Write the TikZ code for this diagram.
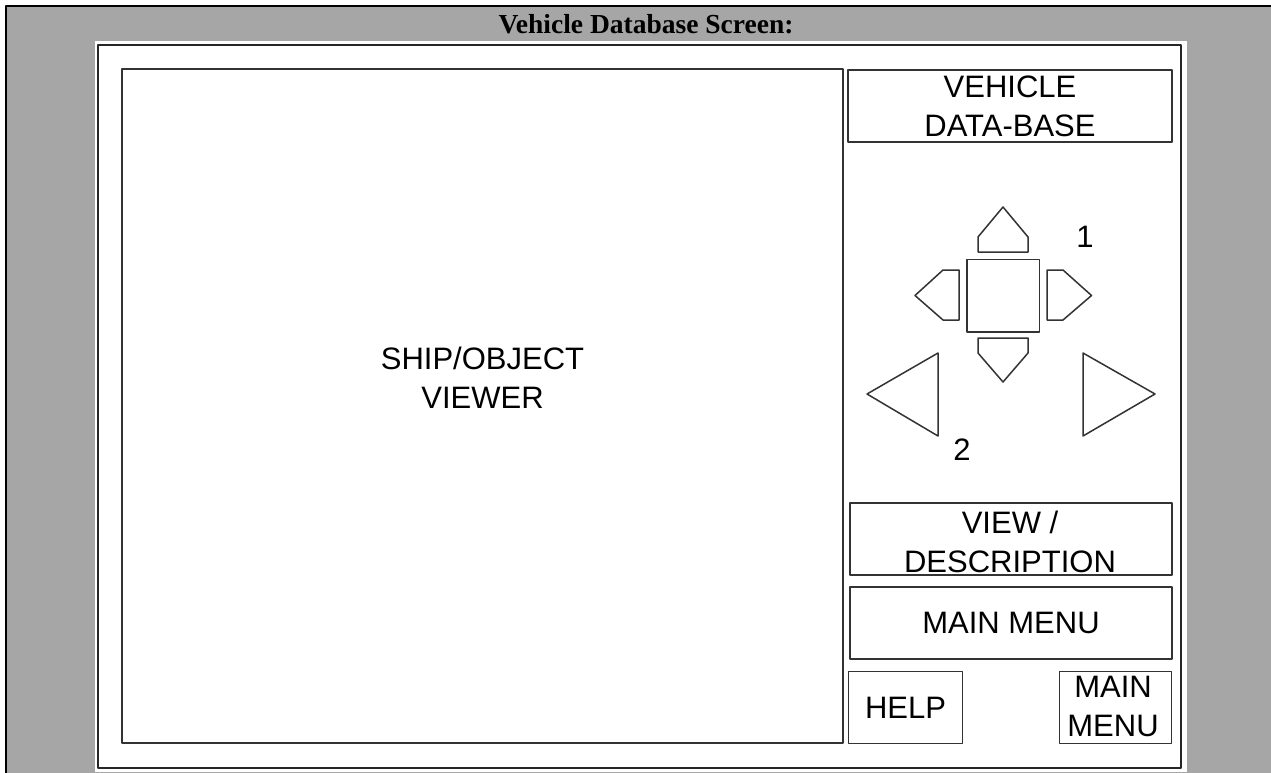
\documentclass[tikz,border=0pt]{standalone}
\usepackage{fontspec}
\setmainfont{Liberation Sans}
\newfontfamily\titlefont{Liberation Serif}
\begin{document}
\begin{tikzpicture}[x=1pt, y=-1pt, line cap=round, line join=round,
    key/.style={draw=black!80, line width=1.5pt, inner sep=0pt, align=center,
      font=\fontsize{31}{39}\selectfont},
    pin/.style={draw=black!80, line width=1.5pt, fill=white},
    lbl/.style={inner sep=0pt, align=center, font=\fontsize{31}{39}\selectfont}]
  \useasboundingbox (0,0) rectangle (1271,773);
  % Hintergrund
  \fill[black!35] (6,6) rectangle (1271,773);
  \draw[line width=1.6pt] (1271,6) -- (6,6) -- (6,773);
  \node[inner sep=0pt, font=\titlefont\bfseries\fontsize{27.5}{30}\selectfont] (title) at (646,24) {Vehicle Database Screen:};
  \fill[white] (95,41) rectangle (1187,772);
  \draw[black!85, line width=1.6pt] (98,45) rectangle (1181,768);
  % Betrachter
  \node[key, minimum width=721, minimum height=674] (viewer) at (482.5,406) {};
  \node[lbl] (viewertxt) at (482.5,378) {SHIP/OBJECT\\VIEWER};
  % rechte Leiste
  \node[key, minimum width=324, minimum height=72] (vdb) at (1010,106) {VEHICLE\\DATA-BASE};
  \node[key, minimum width=322, minimum height=72] (viewdesc) at (1011,539) {};
  \node[lbl] (viewdesctxt) at (1010,542) {VIEW /\\DESCRIPTION};
  \node[key, minimum width=322, minimum height=72] (mainmenu) at (1011,623) {MAIN MENU};
  \node[key, minimum width=114, minimum height=72] (help) at (905.5,707.5) {HELP};
  \node[key, minimum width=112, minimum height=72] (mainmenub) at (1115.5,707.5) {};
  \node[lbl] (mainmenubtxt) at (1113,706) {MAIN\\MENU};
  % Steuerkreuz
  \node[key, minimum size=72.5] (pad) at (1003,295.5) {};
  \draw[pin] (978,252) -- (978,237) -- (1003,207) -- (1028,237) -- (1028,252) -- cycle;
  \draw[pin] (978,338) -- (1028,338) -- (1028,353) -- (1003,382) -- (978,353) -- cycle;
  \draw[pin] (959,270) -- (959,320) -- (943,320) -- (915,295.5) -- (943,270) -- cycle;
  \draw[pin] (1047,270) -- (1063,270) -- (1091.5,295.5) -- (1063,320) -- (1047,320) -- cycle;
  \draw[pin] (938,353) -- (938,436) -- (867,394) -- cycle;
  \draw[pin] (1083,353) -- (1155,394) -- (1083,436) -- cycle;
  \node[lbl] (one) at (1085,237) {1};
  \node[lbl] (two) at (962,450) {2};
\end{tikzpicture}
\end{document}
